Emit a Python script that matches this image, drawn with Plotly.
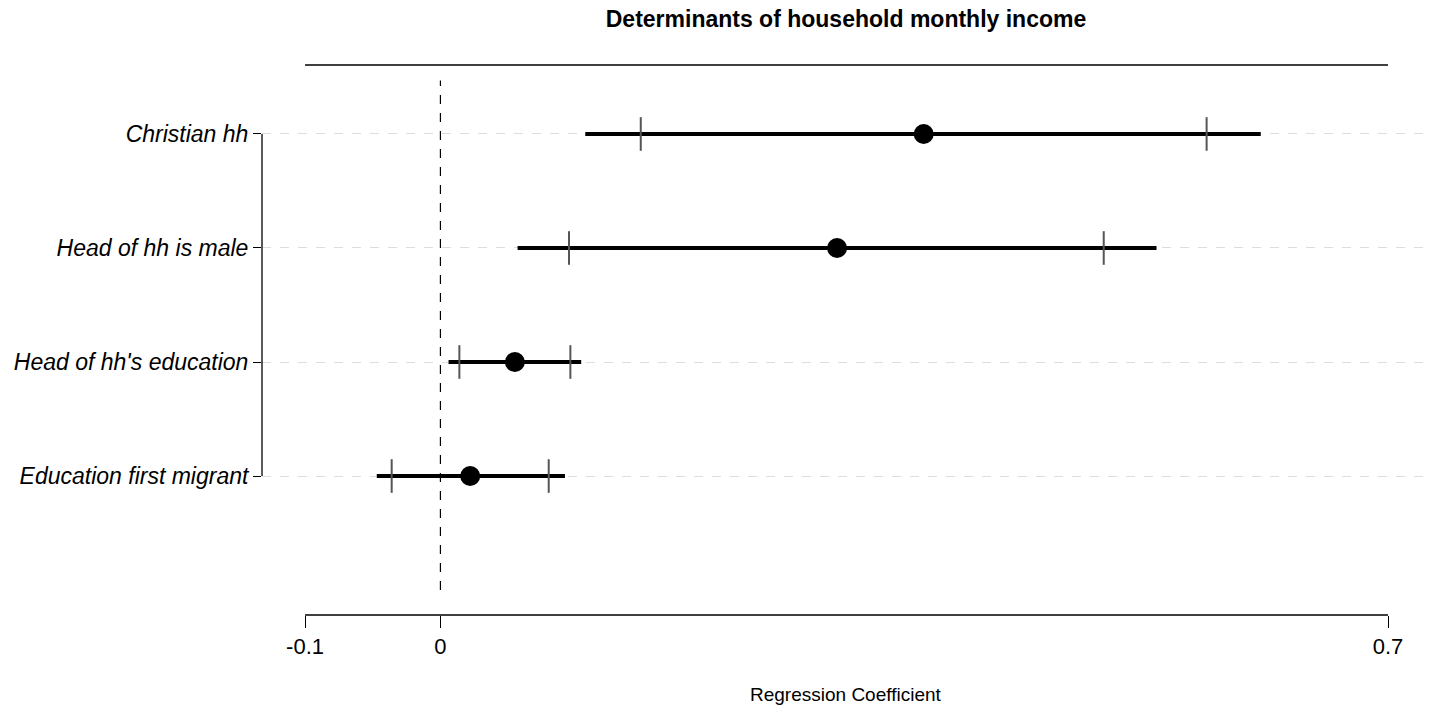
import plotly.graph_objects as go

categories = ["Christian hh", "Head of hh is male", "Head of hh's education", "Education first migrant"]
coef = [0.357, 0.293, 0.055, 0.022]
ci_outer_low = [0.107, 0.057, 0.006, -0.047]
ci_outer_high = [0.606, 0.529, 0.104, 0.092]
ci_inner_low = [0.148, 0.095, 0.014, -0.036]
ci_inner_high = [0.566, 0.490, 0.096, 0.080]
x_tickvals = [-0.1, 0, 0.7]
x_ticktext = ["-0.1", "0", "0.7"]

ypos = [4, 3, 2, 1]

fig = go.Figure()

# thick outer CI lines
for i in range(len(categories)):
    fig.add_trace(go.Scatter(
        x=[ci_outer_low[i], ci_outer_high[i]], y=[ypos[i], ypos[i]],
        mode="lines", line=dict(color="black", width=4),
        showlegend=False, hoverinfo="skip"))

# inner CI tick marks
fig.add_trace(go.Scatter(
    x=ci_inner_low + ci_inner_high, y=ypos + ypos,
    mode="markers",
    marker=dict(symbol="line-ns", size=24, line=dict(color="#555555", width=2)),
    showlegend=False, hoverinfo="skip"))

# point estimates
fig.add_trace(go.Scatter(
    x=coef, y=ypos, mode="markers",
    marker=dict(symbol="circle", size=20, color="black"),
    showlegend=False))

# zero line
fig.add_shape(type="line", x0=0, x1=0, y0=0.0, y1=4.47, xref="x", yref="y",
              line=dict(color="black", width=1.2, dash="dash"))
# bottom axis line and top line
fig.add_shape(type="line", x0=-0.1, x1=0.7, y0=0, y1=0, xref="x", yref="paper",
              line=dict(color="black", width=1.3))
fig.add_shape(type="line", x0=-0.1, x1=0.7, y0=1, y1=1, xref="x", yref="paper",
              line=dict(color="black", width=1.3))
# y axis line
fig.add_shape(type="line", x0=0, x1=0, y0=1, y1=4, xref="paper", yref="y",
              line=dict(color="black", width=1.3))

fig.update_layout(
    width=1439, height=708,
    margin=dict(l=262, r=7, t=65, b=93),
    paper_bgcolor="white", plot_bgcolor="white",
    font=dict(family="Liberation Sans, Arial, sans-serif", color="black"),
    title=dict(text="<b>Determinants of household monthly income</b>",
               x=846/1439, xref="container", xanchor="center",
               y=1-19/708, yref="container", yanchor="middle",
               font=dict(size=23, color="black")),
    xaxis=dict(range=[-0.1318, 0.7325], tickvals=x_tickvals, ticktext=x_ticktext,
               ticks="outside", ticklen=12, tickcolor="black", tickwidth=1.3,
               showline=False, showgrid=False, zeroline=False,
               tickfont=dict(size=22, color="black")),
    yaxis=dict(range=[-0.219, 4.605], tickvals=ypos, ticktext=categories,
               ticks="outside", ticklen=8, tickcolor="black", tickwidth=1.3,
               showline=False, showgrid=True, gridcolor="#dddddd", griddash="dash",
               gridwidth=1, zeroline=False,
               tickfont=dict(size=23, color="black", style="italic")),
    annotations=[dict(text="Regression Coefficient", x=0.499, xref="paper",
                      y=(615-694)/550, yref="paper", yanchor="middle",
                      showarrow=False, font=dict(size=19, color="black"))],
)

fig.write_html("out.html", config={"displayModeBar": False},
               post_script="document.body.style.margin='0';")
